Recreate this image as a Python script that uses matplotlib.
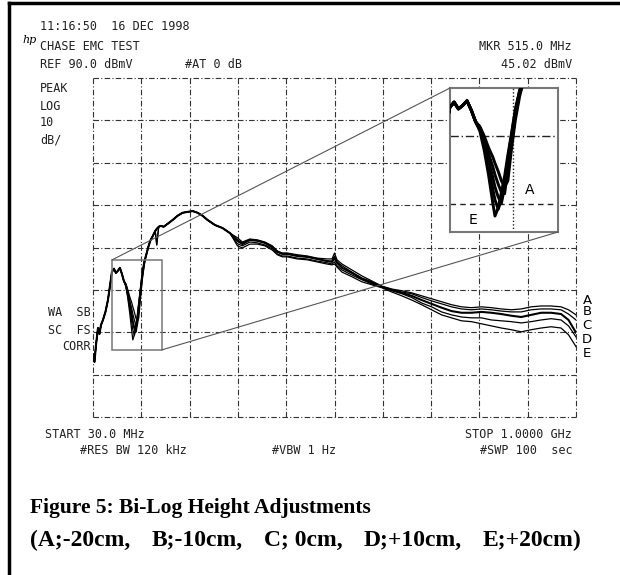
import numpy as np
import matplotlib
matplotlib.use("Agg")
import matplotlib.pyplot as plt
from matplotlib.patches import Rectangle, ConnectionPatch
from matplotlib.lines import Line2D

# ---------------- data (MHz, dBmV) ----------------
freq_mhz = [30, 33, 36, 40, 43, 46, 50, 55, 60, 65, 68, 72, 76, 80, 84, 88, 92,
            96, 100, 104, 108, 110, 113, 116, 119, 122, 125, 129, 133,
            137, 141, 145, 150, 155, 158, 162, 166, 172, 180, 190, 200, 210,
            220, 230, 240, 250, 260, 275, 290, 305,
            320, 330, 345, 360, 375, 390, 400, 410, 420, 440, 460, 480, 500,
            510, 515, 520, 530, 550, 570, 590, 610, 630, 650, 670, 690, 710,
            730, 750, 770, 790, 810, 830, 850, 870, 890, 910, 930, 950, 970,
            985, 1000]

common_start = [24.7, 23.0, 27.0, 31.0, 29.6, 31.7, 32.9, 34.8, 37.6, 41.7,
                44.2, 45.0, 44.0, 44.5, 45.2, 43.8, 42.1]
common_mid = [48.3, 50.1, 51.6, 52.7, 53.9, 54.4, 54.9, 55.1, 54.9, 55.6,
              56.5, 57.5, 58.2, 58.4, 58.6, 58.2, 57.5, 56.5, 55.3, 54.6, 53.4]

trace_A = common_start + [41.4, 40.0, 38.3, 36.9, 36.0, 34.8, 33.4, 32.5, 33.4, 37.6, 42.4, 45.9] + \
    common_mid + [52.3, 51.3, 52.0, 51.8, 51.3, 50.4, 49.2, 48.7, 48.7, 48.3, 48.0, 47.5, 47.3,
                  47.3, 48.7, 47.1, 46.1, 44.7, 43.3, 42.1, 40.9, 40.2, 39.8, 39.3, 38.6, 37.9,
                  37.2, 36.5, 36.0, 35.8, 36.0, 35.8, 35.5, 35.3, 35.5, 36.0, 36.2, 36.2, 36.0,
                  35.3, 34.1]
trace_B = common_start + [41.2, 39.5, 37.4, 35.5, 34.3, 32.9, 31.7, 31.5, 35.3, 38.8, 43.1, 46.4] + \
    common_mid + [51.8, 51.1, 51.8, 51.6, 51.1, 50.1, 49.0, 48.5, 48.5, 48.0, 47.8, 47.3, 46.8,
                  46.8, 48.0, 46.6, 45.7, 44.2, 42.8, 41.9, 40.7, 40.0, 39.5, 39.1, 38.2, 37.4,
                  36.7, 36.0, 35.5, 35.3, 35.5, 35.3, 35.0, 34.8, 34.8, 35.3, 35.5, 35.5, 35.3,
                  34.3, 32.9]
trace_C = common_start + [41.2, 39.1, 36.5, 33.9, 32.5, 31.0, 30.1, 32.5, 36.0, 39.3, 43.5, 46.6] + \
    common_mid + [51.6, 50.8, 51.8, 51.6, 51.1, 50.1, 49.0, 48.5, 48.5, 48.0, 47.8, 47.3, 46.8,
                  46.6, 47.5, 46.4, 45.2, 44.0, 42.6, 41.7, 40.7, 40.0, 39.3, 38.6, 37.6, 36.7,
                  35.8, 35.0, 34.6, 34.6, 34.8, 34.6, 34.3, 33.9, 33.6, 34.1, 34.6, 34.6, 34.3,
                  32.9, 29.9]
trace_D = common_start + [41.0, 38.6, 35.5, 32.2, 30.6, 29.2, 30.6, 33.4, 36.7, 39.8, 43.8, 46.6] + \
    common_mid[:5] + [50.6] + common_mid[6:] + \
    [50.9, 50.4, 51.3, 51.1, 50.6, 49.7, 48.5, 48.0, 48.0, 47.5, 47.3, 46.8, 46.4,
     46.1, 46.6, 45.7, 44.7, 43.5, 42.4, 41.4, 40.7, 39.8, 39.1, 38.2, 36.9, 36.0,
     34.8, 34.1, 33.6, 33.4, 33.4, 32.9, 32.7, 32.5, 32.2, 32.5, 32.9, 33.2, 32.9,
     31.5, 28.9]
trace_E = common_start + [40.7, 37.9, 34.3, 30.1, 28.2, 29.4, 31.7, 34.1, 37.2, 40.0, 44.0, 46.8] + \
    common_mid[:5] + [50.6] + common_mid[6:] + \
    [50.4, 49.9, 50.8, 50.8, 50.4, 49.4, 48.3, 47.8, 47.8, 47.3, 47.1, 46.6, 46.1,
     45.9, 46.1, 45.4, 44.2, 43.1, 41.9, 41.2, 40.5, 39.5, 38.6, 37.6, 36.5, 35.3,
     34.1, 33.4, 32.7, 32.5, 32.0, 31.5, 31.0, 30.6, 30.1, 30.6, 31.0, 31.3, 31.0,
     29.4, 26.6]

traces = {"A": trace_A, "B": trace_B, "C": trace_C, "D": trace_D, "E": trace_E}
trace_labels = ["A", "B", "C", "D", "E"]
label_levels = [37.6, 34.8, 31.7, 28.4, 24.9]

start_mhz, stop_mhz = 30.0, 1000.0
ref_dbmv, db_per_div = 90.0, 10.0
zoom_f = (68.2, 168.6)
zoom_l = (25.85, 47.08)

caption_1 = "Figure 5: Bi-Log Height Adjustments"
caption_2 = ["(A;-20cm,", "B;-10cm,", "C; 0cm,", "D;+10cm,", "E;+20cm)"]

# ---------------- figure ----------------
W, H = 620, 575
fig = plt.figure(figsize=(W / 100, H / 100), dpi=100)
fig.patch.set_facecolor("white")

def fx(px):
    return px / W

def fy(py):
    return 1 - py / H

ax = fig.add_axes([fx(93), fy(417), 483 / W, 339 / H])
ax.set_xlim(start_mhz, stop_mhz)
ax.set_ylim(ref_dbmv - 8 * db_per_div, ref_dbmv)
for s in ax.spines.values():
    s.set_visible(False)
ax.set_xticks([])
ax.set_yticks([])

grid_kw = dict(color="#333333", lw=0.8, linestyle=(0, (5, 2, 1, 2)), zorder=1, clip_on=False)
for fv in np.linspace(start_mhz, stop_mhz, 11):
    ax.axvline(fv, **grid_kw)
for lv in np.linspace(ref_dbmv - 80, ref_dbmv, 9):
    ax.axhline(lv, **grid_kw)

for name in trace_labels:
    ax.plot(freq_mhz, traces[name], color="black", lw=1.5 if name == "C" else 0.9, zorder=3)

for lab, lv in zip(trace_labels, label_levels):
    ax.text(1022, lv, lab, ha="center", va="center", fontsize=9.5,
            family="DejaVu Sans", clip_on=False)

# zoom rectangle
ax.add_patch(Rectangle((zoom_f[0], zoom_l[0]), zoom_f[1] - zoom_f[0], zoom_l[1] - zoom_l[0],
                       fill=False, edgecolor="#777777", lw=1.1, zorder=4))

# inset
axi = fig.add_axes([fx(450), fy(232), 108 / W, 144 / H])
axi.set_xlim(*zoom_f)
axi.set_ylim(*zoom_l)
axi.set_xticks([])
axi.set_yticks([])
axi.set_facecolor("white")
for s in axi.spines.values():
    s.set_edgecolor("#777777")
    s.set_linewidth(1.5)
axi.axhline(40, color="#222222", lw=1.0, linestyle=(0, (6, 2, 1, 2)), zorder=1)
axi.axhline(30, color="#222222", lw=1.0, linestyle=(0, (4, 3)), zorder=1)
axi.axvline(127, color="#222222", lw=1.0, linestyle=(0, (1, 1.5)), zorder=1)
for name in trace_labels:
    axi.plot(freq_mhz, traces[name], color="black", lw=2.1, zorder=3)
axi.text(0.74, 0.29, "A", transform=axi.transAxes, ha="center", va="center", fontsize=10)
axi.text(0.21, 0.085, "E", transform=axi.transAxes, ha="center", va="center", fontsize=10)

for (xa, ya), (xb, yb) in [((zoom_f[0], zoom_l[1]), (0, 1)), ((zoom_f[1], zoom_l[0]), (1, 0))]:
    con = ConnectionPatch(xyA=(xa, ya), coordsA=ax.transData, xyB=(xb, yb), coordsB=axi.transAxes,
                          color="#555555", lw=0.8, zorder=2)
    fig.add_artist(con)

# header / footer text
mono = dict(family="DejaVu Sans Mono", fontsize=8.5, color="#222222", va="center")
fig.text(fx(40), fy(27), "11:16:50  16 DEC 1998", **mono)
fig.text(fx(40), fy(46), "CHASE EMC TEST", **mono)
fig.text(fx(40), fy(64), "REF 90.0 dBmV", **mono)
fig.text(fx(185), fy(64), "#AT 0 dB", **mono)
fig.text(fx(572), fy(46), "MKR 515.0 MHz", ha="right", **mono)
fig.text(fx(572), fy(64), "45.02 dBmV", ha="right", **mono)
for txt, yy in [("PEAK", 88), ("LOG", 106), ("10", 123), ("dB/", 140)]:
    fig.text(fx(40), fy(yy), txt, **mono)
for txt, yy in [("WA  SB", 312), ("SC  FS", 330), ("CORR", 347)]:
    fig.text(fx(91), fy(yy), txt, ha="right", **mono)
fig.text(fx(45), fy(434), "START 30.0 MHz", **mono)
fig.text(fx(572), fy(434), "STOP 1.0000 GHz", ha="right", **mono)
fig.text(fx(80), fy(451), "#RES BW 120 kHz", **mono)
fig.text(fx(272), fy(451), "#VBW 1 Hz", **mono)
fig.text(fx(573), fy(451), "#SWP 100  sec", ha="right", **mono)
fig.text(fx(22), fy(40), "hp", family="DejaVu Serif", style="italic", fontsize=8, va="center")

cap = dict(family="Liberation Serif", weight="bold", fontsize=15.5, color="black", va="center")
fig.text(fx(30), fy(508), caption_1, **cap)
cap2 = dict(cap, fontsize=17)
cap2_x = [30, 152, 264, 364, 483]
for chunk, xx in zip(caption_2, cap2_x):
    fig.text(fx(xx), fy(540), chunk, **cap2)

# page border (left and top)
fig.add_artist(Line2D([fx(9), fx(9)], [fy(3), 0], color="black", lw=2.5))
fig.add_artist(Line2D([fx(9), 1], [fy(3), fy(3)], color="black", lw=2.5))

fig.savefig("out.png", dpi=100)
